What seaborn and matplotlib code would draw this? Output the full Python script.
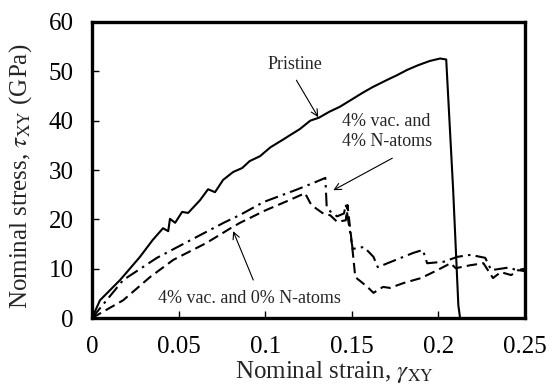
import matplotlib
matplotlib.use("Agg")
import matplotlib.pyplot as plt
import seaborn as sns
import pandas as pd

# Shear stress-strain curves (strain, stress in GPa)
pristine_strain = [0, 0.0046, 0.0162, 0.0277, 0.035, 0.041, 0.044, 0.045, 0.048, 0.052,
                   0.0555, 0.0624, 0.067, 0.071, 0.0757, 0.0815, 0.0867, 0.091, 0.097,
                   0.103, 0.110, 0.1145, 0.120, 0.126, 0.131, 0.137, 0.143, 0.150, 0.156,
                   0.162, 0.170, 0.176, 0.182, 0.188, 0.195, 0.201, 0.2045, 0.2085,
                   0.2115, 0.2125]
pristine_stress = [0, 3.6, 7.7, 12.4, 15.8, 18.2, 17.6, 20.1, 19.3, 21.5,
                   21.3, 23.9, 26.1, 25.5, 28.0, 29.6, 30.4, 31.8, 32.8,
                   34.6, 36.1, 37.1, 38.3, 40.0, 40.6, 41.8, 42.8, 44.3, 45.6,
                   46.8, 48.2, 49.2, 50.3, 51.2, 52.1, 52.6, 52.4, 26.0,
                   2.6, 0]

vac4_n4_strain = [0, 0.018, 0.0375, 0.057, 0.076, 0.0855, 0.099, 0.118, 0.128, 0.1347,
                  0.1355, 0.1376, 0.1415, 0.1455, 0.1465, 0.1505, 0.157, 0.1625, 0.165,
                  0.172, 0.1855, 0.191, 0.1935, 0.203, 0.211, 0.2185, 0.227, 0.2305,
                  0.240, 0.2457, 0.250]
vac4_n4_stress = [0, 7.7, 12.2, 15.8, 19.3, 20.9, 23.5, 26.0, 27.4, 28.4,
                  22.5, 21.6, 20.6, 21.2, 23.0, 14.0, 14.4, 12.4, 10.3,
                  11.3, 13.2, 13.8, 11.1, 11.4, 12.4, 12.8, 12.2, 9.7,
                  10.2, 9.7, 10.0]

vac4_n0_strain = [0, 0.018, 0.0335, 0.047, 0.066, 0.080, 0.0855, 0.100, 0.112, 0.123,
                  0.126, 0.129, 0.133, 0.1376, 0.1415, 0.1465, 0.1475, 0.150, 0.152,
                  0.159, 0.1625, 0.168, 0.172, 0.180, 0.190, 0.1994, 0.207, 0.210,
                  0.2185, 0.226, 0.2315, 0.236, 0.242, 0.246, 0.250]
vac4_n0_stress = [0, 3.6, 8.3, 11.8, 15.2, 18.2, 19.3, 21.8, 23.6, 25.3,
                  23.3, 22.3, 21.3, 20.8, 19.5, 19.8, 22.9, 15.2, 8.3,
                  6.3, 5.1, 6.3, 6.1, 7.1, 8.1, 9.7, 11.1, 10.1,
                  10.7, 11.1, 8.1, 9.3, 8.7, 9.7, 9.5]

x_ticks = [0, 0.05, 0.1, 0.15, 0.2, 0.25]
x_tick_labels = ["0", "0.05", "0.1", "0.15", "0.2", "0.25"]
y_ticks = [0, 10, 20, 30, 40, 50, 60]

sns.set_theme(style="white")
plt.rcParams["font.family"] = ["Liberation Serif", "DejaVu Serif"]
plt.rcParams["mathtext.fontset"] = "stix"

fig = plt.figure(figsize=(5.53, 3.90), dpi=100)
ax = fig.add_axes([0.1664, 0.1846, 0.7830, 0.7590])

curves = [
    (pristine_strain, pristine_stress, None),
    (vac4_n4_strain, vac4_n4_stress, (0, (6.5, 2.5, 1.2, 2.5))),
    (vac4_n0_strain, vac4_n0_stress, (0, (5, 2.5))),
]
for xs, ys, dash in curves:
    df = pd.DataFrame({"strain": xs, "stress": ys})
    sns.lineplot(data=df, x="strain", y="stress", ax=ax, color="black",
                 linewidth=1.5, sort=False, estimator=None)
    if dash is not None:
        ax.lines[-1].set_linestyle(dash)

ax.set_xlim(0, 0.25)
ax.set_ylim(0, 60)
ax.set_xticks(x_ticks)
ax.set_xticklabels(x_tick_labels)
ax.set_yticks(y_ticks)

for side in ["left", "right", "top", "bottom"]:
    ax.spines[side].set_visible(True)
    ax.spines[side].set_color("black")
    ax.spines[side].set_linewidth(2.4)

ax.tick_params(axis="both", which="both", direction="in", length=5, width=1.0,
               labelsize=18, colors="black", pad=13,
               bottom=True, left=True, top=False, right=False)

ax.set_xlabel(r"Nominal strain, $\mathit{\gamma}_{\rm XY}$", fontsize=18)
ax.set_ylabel(r"Nominal stress, $\mathit{\tau}_{\rm XY}$ (GPa)", fontsize=18)
ax.xaxis.set_label_coords(0.56, -0.14)
ax.yaxis.set_label_coords(-0.135, 0.48)

arrow = dict(arrowstyle="->", color="black", lw=0.8, shrinkA=0, shrinkB=0)
ax.text(0.1173, 51.3, "Pristine", fontsize=13, ha="center", va="center")
ax.annotate("", xy=(0.1306, 40.7), xytext=(0.118, 48.2), arrowprops=arrow)

ax.text(0.1445, 37.8, "4% vac. and\n4% N-atoms", fontsize=13, ha="left", va="center",
        linespacing=1.25)
ax.annotate("", xy=(0.1393, 25.9), xytext=(0.1734, 32.4), arrowprops=arrow)

ax.text(0.0382, 4.0, "4% vac. and 0% N-atoms", fontsize=13, ha="left", va="center")
ax.annotate("", xy=(0.0815, 17.6), xytext=(0.0931, 7.7), arrowprops=arrow)

fig.savefig("out.png", dpi=100)
